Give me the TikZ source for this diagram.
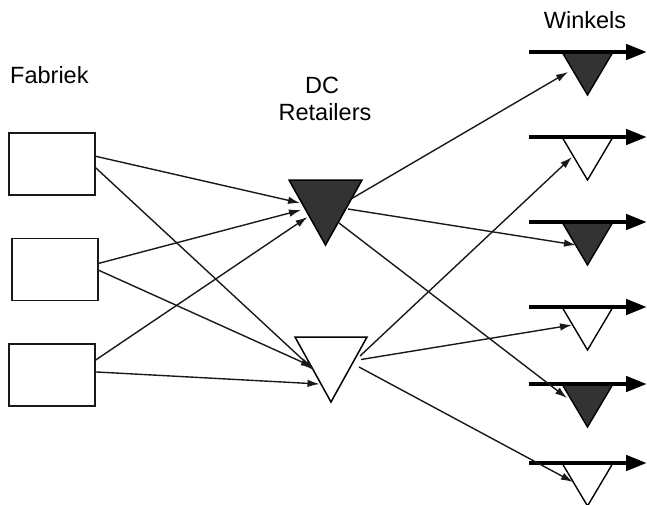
\documentclass[tikz,border=0pt]{standalone}
\usepackage{fontspec}
\setmainfont{Liberation Sans}
\usetikzlibrary{arrows.meta}

\begin{document}
\begin{tikzpicture}[x=1pt,y=-1pt,
  lbl/.style={font=\fontsize{23.5}{28}\selectfont, inner sep=0pt, anchor=base},
  fabbox/.style={draw=black!90, line width=1.5pt, minimum width=86pt, minimum height=62pt, inner sep=0pt},
  flow/.style={draw=black!90, line width=1.4pt, -{Latex[length=12pt,width=7.5pt]}},
  dcshape/.style={draw=black, line width=1.5pt, line join=miter},
  shopshape/.style={draw=black, line width=1.4pt, line join=miter},
  darkfill/.style={fill=black!80},
  lightfill/.style={fill=white},
  outflow/.style={draw=black, line width=4.5pt,
    -{Triangle[length=21pt,width=15pt]}},
]
\useasboundingbox (0,0) rectangle (647,504);

% column headings
\node[lbl, anchor=base west] (tfab) at (10,83) {Fabriek};
\node[lbl] (tdc) at (322,93) {DC};
\node[lbl] (tret) at (325,120) {Retailers};
\node[lbl] (twin) at (585,28) {Winkels};

% factories
\node[fabbox] (b1) at (52,164) {};
\node[fabbox] (b2) at (55,269.5) {};
\node[fabbox] (b3) at (52,375) {};

% distribution centres (inverted triangles)
\path[dcshape, darkfill] (289,180) -- (362,180) -- (325.5,245) -- cycle;
\path[dcshape, lightfill] (295,337) -- (367,337) -- (331,402) -- cycle;

% shops: a triangle under a thick outgoing arrow
\foreach \y/\sty [count=\i] in {52/darkfill, 137/lightfill, 222/darkfill,
                                307/lightfill, 384/darkfill, 463/lightfill}{
  \path[shopshape, \sty] (562,\y) -- (613,\y) -- (587.5,\y+43) -- cycle;
  \coordinate (w\i s) at (529,\y);
  \coordinate (w\i e) at (647,\y);
  \draw[outflow] (w\i s) -- (w\i e);
}

% arrow ends on the distribution centres
\coordinate (dA1) at (300,203);
\coordinate (dA2) at (301,210);
\coordinate (dA3) at (307.5,217);
\coordinate (dB1) at (315,371);
\coordinate (dB2) at (313,367);
\coordinate (dB3) at (319.5,384);
\coordinate (oA1) at (351,199);
\coordinate (oA2) at (348,209);
\coordinate (oA3) at (339,223);
\coordinate (oB1) at (360,356);
\coordinate (oB2) at (361,359.5);
\coordinate (oB3) at (359,367);

% arrow ends on the shops
\coordinate (in1) at (568,72);
\coordinate (in2) at (572,157);
\coordinate (in3) at (576,245);
\coordinate (in4) at (572,325);
\coordinate (in5) at (567,398);
\coordinate (in6) at (573,482);

% factory -> distribution centre
\draw[flow] (b1.10) -- (dA1);
\draw[flow] (b1.-5) -- (dB1);
\draw[flow] (b2.8.5) -- (dA2);
\draw[flow] (b2.-1) -- (dB2);
\draw[flow] (b3.19) -- (dA3);
\draw[flow] (b3.4) -- (dB3);

% distribution centre -> shop
\draw[flow] (oA1) -- (in1);
\draw[flow] (oA2) -- (in3);
\draw[flow] (oA3) -- (in5);
\draw[flow] (oB1) -- (in2);
\draw[flow] (oB2) -- (in4);
\draw[flow] (oB3) -- (in6);
\end{tikzpicture}
\end{document}
